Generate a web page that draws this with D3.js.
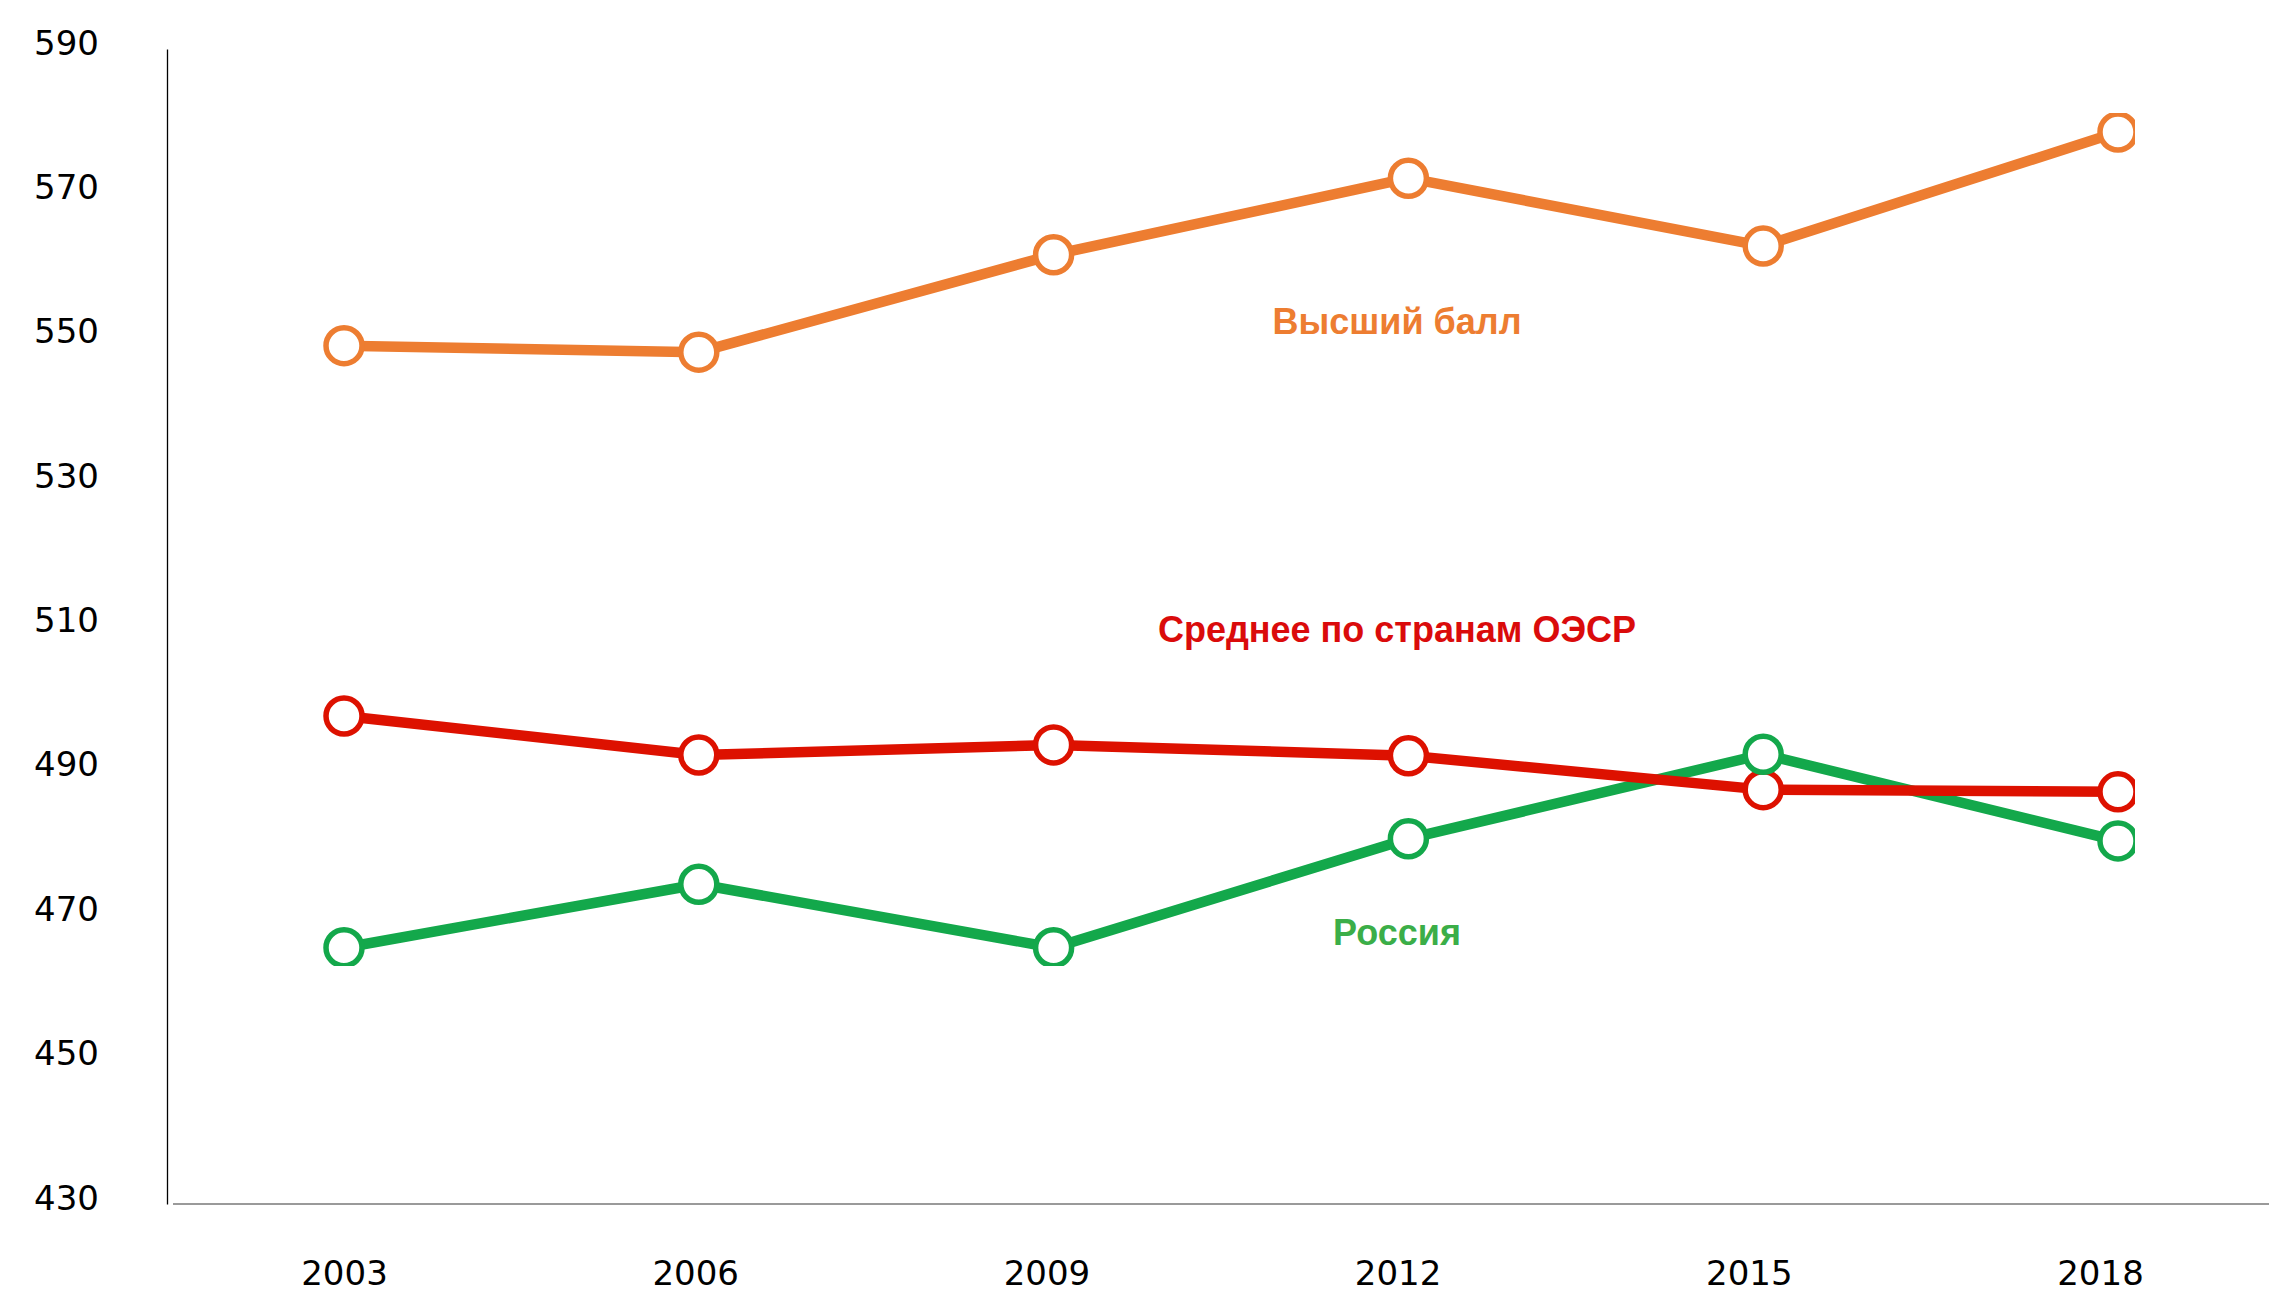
<!DOCTYPE html>
<html>
<head>
<meta charset="utf-8">
<script src="https://cdn.jsdelivr.net/npm/d3@7"></script>
<style>
  body { margin: 0; background: #fff; }
  #chart { width: 2269px; height: 1292px; }
  .axis text { font-family: "DejaVu Sans", sans-serif; font-size: 34px; fill: #000; }
  .seriesLabel { font-family: "Liberation Sans", Arial, sans-serif; font-size: 36px; font-weight: bold; }
</style>
</head>
<body>
<div id="chart"></div>
<script>
// data
const years = ["2003", "2006", "2009", "2012", "2015", "2018"];
const topScore = [548.9, 548.0, 561.5, 572.1, 562.7, 578.5];
const oecdAverage = [497.6, 492.2, 493.6, 492.1, 487.4, 487.1];
const russia = [465.5, 474.3, 465.5, 480.6, 492.3, 480.3];
const yTicks = [430, 450, 470, 490, 510, 530, 550, 570, 590];

const seriesNames = ["Высший балл", "Среднее по странам ОЭСР", "Россия"];

// 1. SVG CANVAS
const width = document.querySelector("#chart").clientWidth;
const height = document.querySelector("#chart").clientHeight;

const svg = d3.select("#chart")
  .append("svg")
  .attr("width", width)
  .attr("height", height);

const margin = { top: 49, left: 167, right: 151, bottom: 88 };

// 2. SCALES
const xScale = d3.scalePoint()
  .domain(years)
  .range([344, width - margin.right]);

// tick labels sit slightly left of the markers in the original
const xLabelScale = d3.scalePoint()
  .domain(years)
  .range([344, 2100]);

const yScale = d3.scaleLinear()
  .domain([430, 590])
  .range([height - margin.bottom, margin.top]);

const series = [
  { name: seriesNames[0], values: topScore, color: "#ED7D31", textColor: "#ED7D31", labelValue: 550.5 },
  { name: seriesNames[1], values: oecdAverage, color: "#DD1100", textColor: "#DA0B0B", labelValue: 507.9 },
  { name: seriesNames[2], values: russia, color: "#13A84B", textColor: "#3BAE48", labelValue: 465.9 }
];

// 3. AXES
const yAxis = svg.append("g")
  .attr("class", "axis")
  .attr("transform", `translate(${margin.left},0)`)
  .call(d3.axisLeft(yScale).tickValues(yTicks).tickSize(0).tickSizeOuter(0).tickPadding(68));

yAxis.select(".domain").attr("stroke", "#000").attr("stroke-width", 1.3);
yAxis.selectAll("text").attr("dy", "0.15em");

const xAxis = svg.append("g")
  .attr("class", "axis")
  .attr("transform", `translate(0,${height - margin.bottom})`)
  .call(d3.axisBottom(xLabelScale).tickSize(0).tickPadding(57));

xAxis.select(".domain").remove();

svg.append("line")
  .attr("x1", margin.left + 6)
  .attr("x2", width)
  .attr("y1", height - margin.bottom)
  .attr("y2", height - margin.bottom)
  .attr("stroke", "#9a9a9a")
  .attr("stroke-width", 2);

// 4. CLIP (the original picture cuts the marks off at these edges)
svg.append("clipPath")
  .attr("id", "plotClip")
  .append("rect")
  .attr("x", 0)
  .attr("y", 113)
  .attr("width", 2135)
  .attr("height", 966 - 113);

const plot = svg.append("g").attr("clip-path", "url(#plotClip)");

// 5. LINES
const line = d3.line()
  .x((d, i) => xScale(years[i]))
  .y(d => yScale(d));

const lineOrder = [series[2], series[1], series[0]];

plot.selectAll(".line")
  .data(lineOrder)
  .enter()
  .append("path")
    .attr("class", "line")
    .attr("d", d => line(d.values))
    .attr("fill", "none")
    .attr("stroke", d => d.color)
    .attr("stroke-width", 10.5)
    .attr("stroke-linejoin", "round");

// 6. MARKERS
const markerOrder = [series[0], series[1], series[2]];

markerOrder.forEach(function(s) {
  plot.selectAll(null)
    .data(s.values)
    .enter()
    .append("circle")
      .attr("cx", (d, i) => xScale(years[i]))
      .attr("cy", d => yScale(d))
      .attr("r", 18)
      .attr("fill", "#fff")
      .attr("stroke", s.color)
      .attr("stroke-width", 5.5);
});

// 7. SERIES LABELS
svg.selectAll(".seriesLabel")
  .data(series)
  .enter()
  .append("text")
    .attr("class", "seriesLabel")
    .attr("x", 1397)
    .attr("y", d => yScale(d.labelValue))
    .attr("text-anchor", "middle")
    .attr("fill", d => d.textColor)
    .text(d => d.name);
</script>
</body>
</html>
